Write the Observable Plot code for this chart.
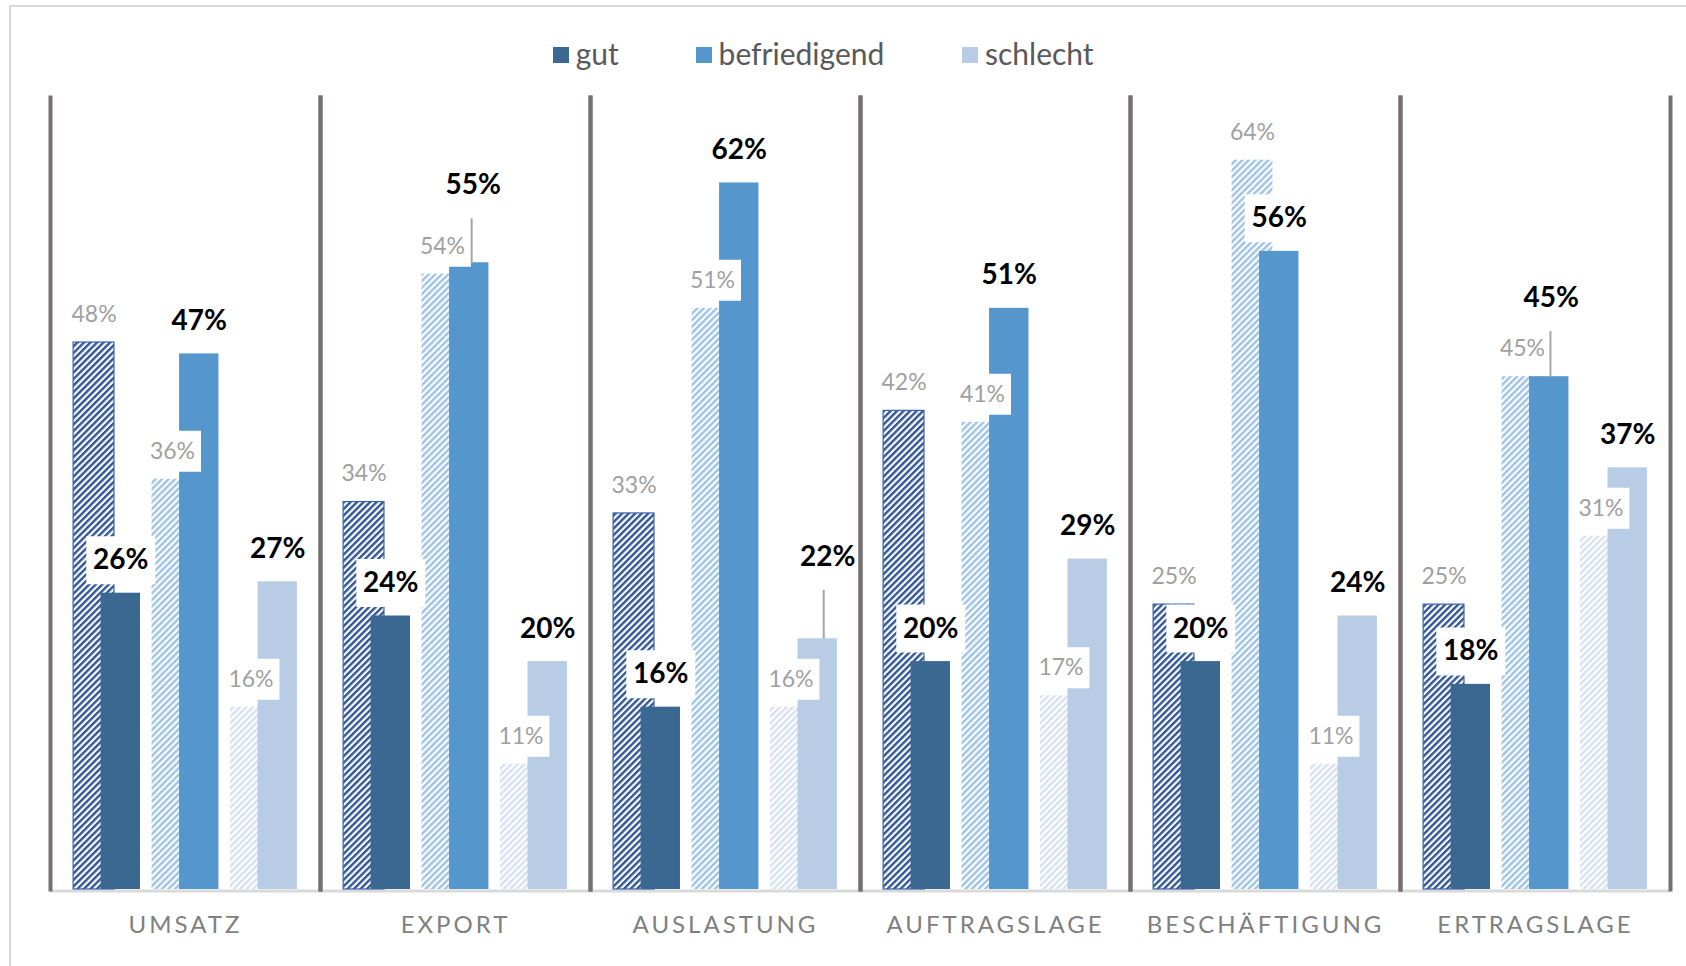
<!DOCTYPE html>
<html>
<head>
<meta charset="utf-8">
<script src="https://cdn.jsdelivr.net/npm/d3@7"></script>
<script src="https://cdn.jsdelivr.net/npm/@observablehq/plot@0.6"></script>
<style>
html, body { margin: 0; padding: 0; background: #fff; width: 1686px; height: 966px; overflow: hidden; font-family: Lato, sans-serif; }
#frame { position: absolute; left: 9px; top: 5px; width: 2000px; height: 2000px; border-left: 2px solid #d9d9d9; border-top: 2px solid #d9d9d9; z-index: 10; pointer-events: none; }
#legend { position: relative; height: 80px; }
.sw { position: absolute; top: 47px; width: 16px; height: 16px; }
.lt { position: absolute; top: 38px; font-size: 30px; line-height: 30px; color: #595959; white-space: nowrap; }
#chart { position: relative; }
</style>
</head>
<body>
<div id="legend"></div>
<div id="chart"></div>
<div id="frame"></div>
<script>
// ---------- data ----------
const categories = ["UMSATZ", "EXPORT", "AUSLASTUNG", "AUFTRAGSLAGE", "BESCHÄFTIGUNG", "ERTRAGSLAGE"];
const groups = ["gut", "befriedigend", "schlecht"];
// previous survey (hatched bars)
const prevGut          = [48, 34, 33, 42, 25, 25];
const prevBefriedigend = [36, 54, 51, 41, 64, 45];
const prevSchlecht     = [16, 11, 16, 17, 11, 31];
// current survey (solid bars)
const curGut           = [26, 24, 16, 20, 20, 18];
const curBefriedigend  = [47, 55, 62, 51, 56, 45];
const curSchlecht      = [27, 20, 22, 29, 24, 37];

// ---------- styling ----------
const solidColors = ["#3b6891", "#5596cd", "#b8cce6"];
const hatchColors = ["#2f5597", "#9dc3e6", "#d6e1f2"];
const hatchIds = ["hatch-gut", "hatch-bef", "hatch-sch"];
// manual label placements (leader lines), lift in % units, dx in px
const labelNudges = [
  {category: "EXPORT", group: "befriedigend", lift: 3.9, dx: 4},
  {category: "AUSLASTUNG", group: "schlecht", lift: 4.3, dx: 10},
  {category: "ERTRAGSLAGE", group: "befriedigend", lift: 4.0, dx: 2}
];

const prevSeries = {gut: prevGut, befriedigend: prevBefriedigend, schlecht: prevSchlecht};
const curSeries = {gut: curGut, befriedigend: curBefriedigend, schlecht: curSchlecht};

const prevRows = [], curRows = [];
categories.forEach((c, i) => groups.forEach(g => {
  prevRows.push({category: c, group: g, value: prevSeries[g][i], label: prevSeries[g][i] + "%"});
  const n = labelNudges.find(d => d.category === c && d.group === g);
  curRows.push({category: c, group: g, value: curSeries[g][i], label: curSeries[g][i] + "%", lift: n ? n.lift : 0, nudge: n});
}));

// ---------- legend ----------
const legendX = [552.7, 695.6, 962];
const legend = document.getElementById("legend");
groups.forEach((g, i) => {
  const sw = document.createElement("div");
  sw.className = "sw"; sw.style.left = legendX[i] + "px"; sw.style.background = solidColors[i];
  legend.appendChild(sw);
  const t = document.createElement("div");
  t.className = "lt"; t.style.left = (legendX[i] + 23) + "px"; t.textContent = g;
  legend.appendChild(t);
});

// ---------- label boxes (custom symbols) ----------
const rectSymbol = (w, h) => ({draw(ctx) { ctx.moveTo(-w / 2, -h / 2); ctx.lineTo(w / 2, -h / 2); ctx.lineTo(w / 2, h / 2); ctx.lineTo(-w / 2, h / 2); ctx.closePath(); }});
const grayBox = rectSymbol(57, 41);
const boldBox = rectSymbol(69, 48);

const PREV_DX = -13, CUR_DX = 13.75, PREV_DY = -28, CUR_DY = -33;

const plainCur = curRows.filter(d => !d.nudge);
const nudgedCur = curRows.filter(d => d.nudge);

const marks = [
  Plot.ruleY([0], {stroke: "#d9d9d9", strokeWidth: 3, dy: 1.5}),
  ...groups.map((g, i) => Plot.barY(prevRows.filter(d => d.group === g), {
    fx: "category", x: "group", y: "value", insetRight: 26,
    fill: `url(#${hatchIds[i]})`,
    stroke: i === 0 ? "#3a62ad" : "none", strokeWidth: 1.2
  })),
  Plot.barY(curRows, {fx: "category", x: "group", y: "value", insetLeft: 27.5, fill: "group"}),
  // boxes of previous-survey labels
  Plot.dot(prevRows, {fx: "category", x: "group", y: "value", dx: PREV_DX, dy: PREV_DY, symbol: grayBox, fill: "white", r: 3}),
  // leader lines
  ...nudgedCur.map(d => Plot.link([d], {
    fx: "category", x1: "group", x2: "group", y1: "value", y2: r => r.value + r.lift,
    dx: CUR_DX + d.nudge.dx * 0.6, stroke: "#a6a6a6", strokeWidth: 2
  })),
  // boxes of current labels
  Plot.dot(plainCur, {fx: "category", x: "group", y: "value", dx: CUR_DX, dy: CUR_DY, symbol: boldBox, fill: "white", r: 3}),
  ...nudgedCur.map(d => Plot.dot([d], {fx: "category", x: "group", y: r => r.value + r.lift, dx: CUR_DX + d.nudge.dx, dy: CUR_DY, symbol: boldBox, fill: "white", r: 3})),
  // texts
  Plot.text(prevRows, {fx: "category", x: "group", y: "value", text: "label", dx: PREV_DX, dy: PREV_DY, fill: "#a0a0a0", fontSize: 23}),
  Plot.text(plainCur, {fx: "category", x: "group", y: "value", text: "label", dx: CUR_DX, dy: CUR_DY, fill: "#000", fontSize: 28, fontWeight: "bold"}),
  ...nudgedCur.map(d => Plot.text([d], {fx: "category", x: "group", y: r => r.value + r.lift, text: "label", dx: CUR_DX + d.nudge.dx, dy: CUR_DY, fill: "#000", fontSize: 28, fontWeight: "bold"})),
  // dividers
  Plot.frame({anchor: "left", stroke: "#767171", strokeWidth: 4}),
  Plot.frame({anchor: "right", stroke: "#767171", strokeWidth: 4}),
  Plot.axisFx({anchor: "bottom", label: null, tickSize: 0, tickPadding: 26, fontSize: 24, fill: "#7f7f7f"})
];

const svg = Plot.plot({
  width: 1686, height: 886,
  marginLeft: 50, marginRight: 16, marginTop: 17, marginBottom: 77,
  style: {fontFamily: "Lato, sans-serif", background: "transparent", overflow: "visible"},
  fx: {domain: categories, padding: 0, label: null},
  x: {domain: groups, paddingInner: 0.1476, paddingOuter: 0.2945, round: false, axis: null},
  y: {domain: [0, 69.5], axis: null},
  color: {domain: groups, range: solidColors},
  marks
});

const defs = d3.select(svg).insert("defs", ":first-child");
hatchIds.forEach((id, i) => {
  const p = defs.append("pattern").attr("id", id).attr("patternUnits", "userSpaceOnUse")
    .attr("width", 4.6).attr("height", 4.6).attr("patternTransform", "rotate(45)");
  p.append("rect").attr("width", 4.6).attr("height", 4.6).attr("fill", "white");
  p.append("rect").attr("width", 2.4).attr("height", 4.6).attr("fill", hatchColors[i]);
});
d3.select(svg).selectAll('g[aria-label="fx-axis tick label"] text').attr("letter-spacing", "3px");

document.getElementById("chart").appendChild(svg);
</script>
</body>
</html>
